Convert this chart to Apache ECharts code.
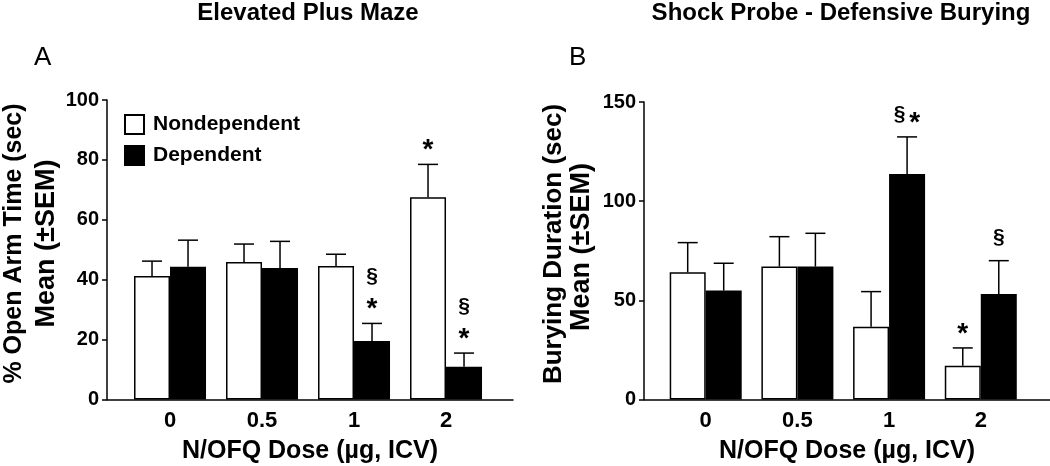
<!DOCTYPE html>
<html><head><meta charset="utf-8">
<script src="https://cdn.jsdelivr.net/npm/echarts@6/dist/echarts.min.js"></script>
<style>html,body{margin:0;padding:0;background:#fff}#c{width:1050px;height:466px}</style>
</head><body><div id="c"></div>
<script>
// ---- data ----
const doses = ['0', '0.5', '1', '2'];
// Panel A: Elevated Plus Maze (% open arm time)
const epmNondep = [41.2, 45.9, 44.6, 67.5];
const epmNondepSem = [5.0, 6.0, 3.9, 11.0];
const epmDep = [44.3, 43.9, 19.5, 10.9];
const epmDepSem = [8.9, 8.9, 5.9, 4.6];
const epmNondepMarks = ['', '', '', '*'];
const epmDepMarks = ['', '', '§\n*', '§\n*'];
// Panel B: Shock probe defensive burying (sec)
const sbNondep = [64.1, 67.0, 36.7, 17.0];
const sbNondepSem = [15.0, 15.1, 17.7, 9.0];
const sbDep = [54.9, 67.0, 113.7, 53.2];
const sbDepSem = [13.8, 16.8, 18.7, 16.8];
const sbNondepMarks = ['', '', '', '*'];
const sbDepMarks = ['', '', '§*', '§'];
const yTicksA = { min: 0, max: 100, interval: 20 };
const yTicksB = { min: 0, max: 150, interval: 50 };

// ---- styling ----
const FONT = '"Liberation Sans", Arial, Helvetica, sans-serif';
const BAR_W = 36, CAP = 20, LW = 1.5;

function pairs(vals, sems) { return vals.map((v, i) => sems ? [i, v, sems[i]] : [i, v]); }

function errRender(sign, marks) {
  return function (params, api) {
    const i = api.value(0), m = api.value(1), s = api.value(2);
    const base = api.coord([i, m]);
    const top = api.coord([i, m + s]);
    const x = base[0] + sign * BAR_W / 2;
    const ch = [
      { type: 'line', shape: { x1: x, y1: base[1], x2: x, y2: top[1] }, style: { stroke: '#000', lineWidth: LW } },
      { type: 'line', shape: { x1: x - CAP / 2, y1: top[1], x2: x + CAP / 2, y2: top[1] }, style: { stroke: '#000', lineWidth: LW } }
    ];
    const mk = marks[params.dataIndex];
    if (mk) {
      const lines = mk.split('\n').reverse();
      lines.forEach((ln, k) => {
        const off = 22 + 24 * k;
        const chars = ln.split('');
        const step = 15;
        chars.forEach((c, j) => {
          const cx = x + (j - (chars.length - 1) / 2) * step;
          const isStar = c === '*';
          ch.push({
            type: 'text',
            style: {
              text: c, x: cx, y: top[1] - off + (isStar ? 8 : -1),
              align: 'center', verticalAlign: 'middle',
              font: 'bold ' + (isStar ? 28 : 21) + 'px ' + FONT, fill: '#000'
            }
          });
        });
      });
    }
    return { type: 'group', children: ch };
  };
}

function xAxisCfg(grid, min, max) {
  return {
    type: 'value', gridIndex: grid, min: min, max: max,
    axisLine: { show: true, onZero: false, lineStyle: { color: '#000', width: LW } },
    axisTick: { show: false }, splitLine: { show: false },
    axisLabel: { customValues: [0, 1, 2, 3], formatter: v => doses[Math.round(v)], fontSize: 22, fontWeight: 'bold', fontFamily: FONT, color: '#000', margin: 10 },
    name: 'N/OFQ Dose (µg, ICV)', nameLocation: 'middle', nameGap: 39,
    nameTextStyle: { fontSize: 25, fontWeight: 'bold', fontFamily: FONT, color: '#000' }
  };
}
function yAxisCfg(grid, t) {
  return {
    type: 'value', gridIndex: grid, min: t.min, max: t.max, interval: t.interval,
    axisLine: { show: true, onZero: false, lineStyle: { color: '#000', width: LW } },
    axisTick: { show: true, inside: false, length: 5, lineStyle: { color: '#000', width: LW } },
    splitLine: { show: false },
    axisLabel: { fontSize: 20, fontWeight: 'bold', fontFamily: FONT, color: '#000', margin: 8 }
  };
}
function vText(text, x, y, size) {
  return { type: 'text', x: x, y: y, rotation: Math.PI / 2,
    style: { text: text, align: 'center', verticalAlign: 'middle', font: 'bold ' + size + 'px ' + FONT, fill: '#000' } };
}

const whiteStyle = { color: '#fff', borderColor: '#000', borderWidth: LW };
const blackStyle = { color: '#000', borderColor: '#000', borderWidth: LW };
const titleStyle = { fontSize: 24, fontWeight: 'bold', fontFamily: FONT, color: '#000' };
const letterStyle = { fontSize: 26, fontWeight: 'normal', fontFamily: FONT, color: '#000' };

const option = {
  animation: false,
  backgroundColor: '#fff',
  textStyle: { fontFamily: FONT },
  title: [
    { text: 'Elevated Plus Maze', left: 308, top: 1, textAlign: 'center', padding: 0, textStyle: titleStyle },
    { text: 'Shock Probe - Defensive Burying', left: 841, top: 1, textAlign: 'center', padding: 0, textStyle: titleStyle },
    { text: 'A', left: 34, top: 45, padding: 0, textStyle: letterStyle },
    { text: 'B', left: 569, top: 45, padding: 0, textStyle: letterStyle }
  ],
  graphic: [
    vText('% Open Arm Time (sec)', 14, 243.5, 25),
    vText('Mean (±SEM)', 47, 243.5, 27),
    vText('Burying Duration (sec)', 554, 244, 26),
    vText('Mean (±SEM)', 582, 247, 27)
  ],
  legend: {
    data: ['Nondependent', 'Dependent'], orient: 'vertical', left: 124, top: 114,
    itemWidth: 19, itemHeight: 19, itemGap: 10, icon: 'rect', padding: 0,
    textStyle: { fontSize: 21, fontWeight: 'bold', fontFamily: FONT, color: '#000', padding: [0, 0, 0, 4] }
  },
  grid: [
    { left: 107, top: 100, width: 406, height: 299.5, outerBoundsMode: 'none', containLabel: false },
    { left: 644, top: 102, width: 406, height: 297.5, outerBoundsMode: 'none', containLabel: false }
  ],
  xAxis: [xAxisCfg(0, -0.685, 3.728), xAxisCfg(1, -0.673, 3.755)],
  yAxis: [yAxisCfg(0, yTicksA), yAxisCfg(1, yTicksB)],
  series: [
    { name: 'Nondependent', type: 'bar', xAxisIndex: 0, yAxisIndex: 0, data: pairs(epmNondep), barWidth: BAR_W, barGap: '0%', itemStyle: whiteStyle },
    { name: 'Dependent', type: 'bar', xAxisIndex: 0, yAxisIndex: 0, data: pairs(epmDep), barWidth: BAR_W, barGap: '0%', itemStyle: blackStyle },
    { type: 'custom', xAxisIndex: 0, yAxisIndex: 0, data: pairs(epmNondep, epmNondepSem), renderItem: errRender(-1, epmNondepMarks), z: 5 },
    { type: 'custom', xAxisIndex: 0, yAxisIndex: 0, data: pairs(epmDep, epmDepSem), renderItem: errRender(1, epmDepMarks), z: 5 },
    { name: 'Nondependent', type: 'bar', xAxisIndex: 1, yAxisIndex: 1, data: pairs(sbNondep), barWidth: BAR_W, barGap: '0%', itemStyle: whiteStyle },
    { name: 'Dependent', type: 'bar', xAxisIndex: 1, yAxisIndex: 1, data: pairs(sbDep), barWidth: BAR_W, barGap: '0%', itemStyle: blackStyle },
    { type: 'custom', xAxisIndex: 1, yAxisIndex: 1, data: pairs(sbNondep, sbNondepSem), renderItem: errRender(-1, sbNondepMarks), z: 5 },
    { type: 'custom', xAxisIndex: 1, yAxisIndex: 1, data: pairs(sbDep, sbDepSem), renderItem: errRender(1, sbDepMarks), z: 5 }
  ]
};
const chart = echarts.init(document.getElementById('c'), null, { renderer: 'canvas' });
chart.setOption(option);
</script></body></html>
